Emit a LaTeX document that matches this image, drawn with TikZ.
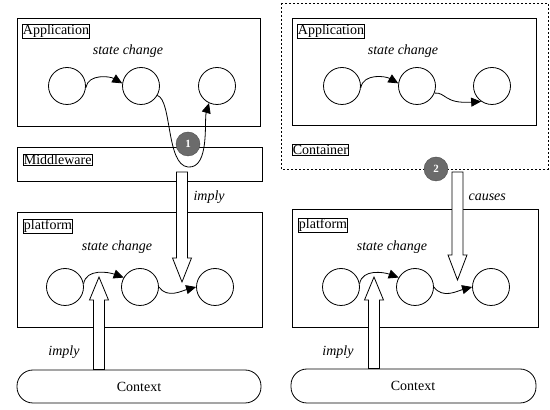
\documentclass[tikz,border=0pt]{standalone}
\usepackage{fontspec}
\setmainfont{Liberation Serif}
\usetikzlibrary{arrows.meta}
\begin{document}
\begin{tikzpicture}[x=1pt,y=1pt,
  box/.style={draw,line width=0.8pt},
  lab/.style={draw,line width=0.6pt,inner sep=0.6pt,anchor=north west,font=\fontsize{14}{15}\selectfont},
  st/.style={draw,circle,minimum size=37pt,inner sep=0pt,line width=0.8pt},
  sc/.style={font=\fontsize{14}{15}\selectfont\itshape},
  it/.style={font=\fontsize{14}{15}\selectfont\itshape},
  tr/.style={line width=0.8pt,-{Triangle[length=10pt,width=9pt]}},
  hollow/.style={draw,fill=white,line width=0.8pt,line join=miter},
  num/.style={circle,draw=black!70,fill=black!58,minimum size=24pt,inner sep=0pt,text=white,font=\fontsize{11}{12}\selectfont\bfseries},
  ctx/.style={draw,line width=0.8pt,rounded corners=16pt}]
\newcommand{\hollowarrow}[4]{\draw[hollow] (#1-5.5,#2) -- (#1+5.5,#2) -- (#1+5.5,#3) -- (#1+9.5,#3) -- (#1,#4) -- (#1-9.5,#3) -- (#1-5.5,#3) -- cycle;}
\useasboundingbox[fill=white] (0,0) rectangle (550,410);

% ---------------- left ----------------
\draw[box] (17,392) rectangle (260,284);
\node[lab] (lapp) at (22,386) {Application};
\node[sc] (lsc1) at (128,359) {state change};
\node[st] (la1) at (67,324) {};
\node[st] (la2) at (141,324) {};
\node[st] (la3) at (217,324) {};
\draw[tr] (la1.-5) to[out=80,in=150] (la2.172);

\draw[box,fill=white] (17,263) rectangle (262,229);
\node[lab] (lmw) at (23,256) {Middleware};
\coordinate (loop) at (188,243);
\draw[tr] (la2.-30) .. controls (172,310) and (166,245) .. (loop) .. controls (210,241) and (204,290) .. (la3.-115);
\node[num] (n1) at (188,266) {1};

\draw[box] (17,198) rectangle (262,83);
\node[lab] (lpl) at (23,191) {platform};
\node[sc] (lsc2) at (117,163) {state change};
\node[st] (lp1) at (65,123) {};
\node[st] (lp2) at (140,123) {};
\node[st] (lp3) at (215,123) {};
\draw[tr] (lp1.10) to[out=80,in=160] (lp2.150);
\draw[tr] (lp2.0) to[out=-55,in=195] (lp3.west);

\hollowarrow{182}{238}{152}{128}
\node[it,anchor=west] (limp1) at (190,213) {imply};

\draw[ctx] (17,40) rectangle (261,7);
\node[font=\fontsize{14}{15}\selectfont] (lctx) at (139,23.5) {Context};
\hollowarrow{99}{40.5}{110}{133}
\node[it] (limp2) at (64,58) {imply};

% ---------------- right ----------------
\draw[line width=0.8pt,dash pattern=on 2pt off 2pt] (281,407) rectangle (548,241);
\draw[box] (292,392) rectangle (536,285);
\node[lab] (rapp) at (297,386) {Application};
\node[sc] (rsc1) at (403,359) {state change};
\node[st] (ra1) at (342,324) {};
\node[st] (ra2) at (417,324) {};
\node[st] (ra3) at (492,324) {};
\draw[tr] (ra1.-5) to[out=80,in=150] (ra2.172);
\draw[tr] (ra2.-22) .. controls (446,318) and (444,306) .. (ra3.-125);
\node[lab] (rcont) at (292,266) {Container};
\node[num] (n2) at (436,241) {2};

\draw[box] (292,201) rectangle (538,83);
\node[lab] (rpl) at (298,192) {platform};
\node[sc] (rsc2) at (392,163) {state change};
\node[st] (rp1) at (341,123) {};
\node[st] (rp2) at (415,123) {};
\node[st] (rp3) at (491,123) {};
\draw[tr] (rp1.10) to[out=80,in=160] (rp2.150);
\draw[tr] (rp2.0) to[out=-55,in=195] (rp3.west);

\hollowarrow{457.5}{238}{155}{130}
\node[it,anchor=west] (rcau) at (465,213) {causes};

\draw[ctx] (291,41) rectangle (536,7);
\node[font=\fontsize{14}{15}\selectfont] (rctx) at (413,24) {Context};
\hollowarrow{374}{41.5}{110}{133}
\node[it] (rimp) at (338,58) {imply};
\end{tikzpicture}
\end{document}
